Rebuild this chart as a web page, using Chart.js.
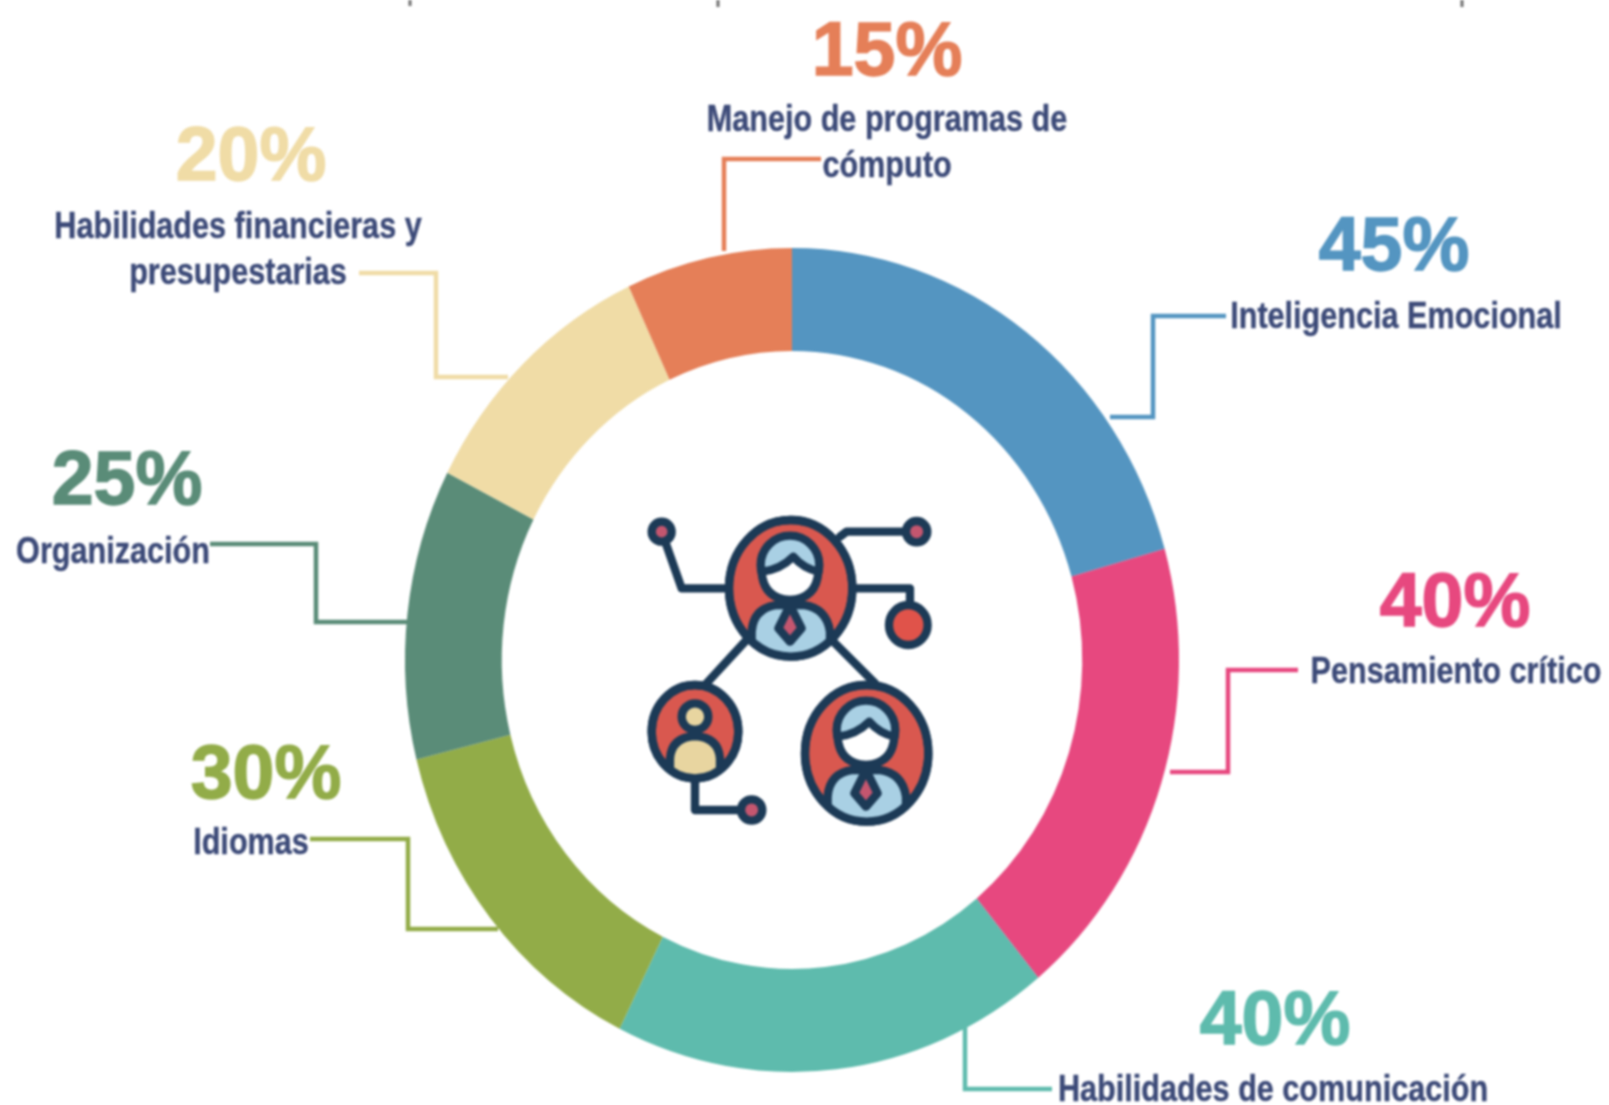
<!DOCTYPE html>
<html lang="es"><head><meta charset="utf-8"><title>Habilidades</title>
<script src="https://cdn.jsdelivr.net/npm/chart.js@4"></script>
<style>
html,body{margin:0;padding:0;background:#fff;width:1609px;height:1105px;overflow:hidden}
#stage{position:relative;width:1609px;height:1105px;filter:blur(.9px)}
#c,#art{position:absolute;left:0;top:0}
.t{position:absolute;white-space:nowrap;font-family:'Liberation Sans',sans-serif;font-weight:700;text-align:center}
.pct{font-size:76px;line-height:76px;transform:translate(-50%,-50%) scaleX(.99);-webkit-text-stroke:1.5px currentColor}
.lab{font-size:36px;line-height:46px;color:#3c4a78;transform:translate(-50%,-50%) scaleX(.85);-webkit-text-stroke:.4px currentColor}
</style></head><body>
<div id="stage">
<canvas id="c" width="1609" height="1105"></canvas>
<svg id="art" width="1609" height="1105" viewBox="0 0 1609 1105" xmlns="http://www.w3.org/2000/svg">
 <g id="leaders" fill="none" stroke-width="4.5"></g>
 <g stroke="#333" stroke-width="3" opacity=".7"><path d="M410 0v6M718 0v7M1462 0v7"/></g>
 <g transform="translate(620 500) scale(.3333)" stroke="#1c3a56" stroke-width="25" stroke-linejoin="round" stroke-linecap="round">
  <defs>
   <clipPath id="cp"><ellipse cx="512" cy="265" rx="185" ry="205"/></clipPath>
   <g id="person">
    <ellipse cx="512" cy="265" rx="185" ry="205" fill="#d9584f"/>
    <g clip-path="url(#cp)">
     <path d="M395 480 V395 Q400 325 470 315 H550 Q620 325 630 395 V480 Z" fill="#a9d0e4"/>
     <path d="M510 315 L475 385 L510 425 L545 385 Z" fill="#c4566f"/>
    </g>
    <ellipse cx="512" cy="265" rx="185" ry="205" fill="none"/>
    <ellipse cx="510" cy="195" rx="88" ry="88" fill="#a9d0e4"/>
    <path d="M425 215 Q480 210 520 170 Q550 205 595 215 Q590 295 510 300 Q430 295 425 215 Z" fill="#fff"/>
   </g>
   <clipPath id="cp2"><ellipse cx="225" cy="695" rx="130" ry="140"/></clipPath>
  </defs>
  <path fill="none" d="M125 95L185 265H320M660 110L680 95H890M705 265H870V320M375 425L255 555M640 425L765 550M225 830V930H395"/>
  <circle cx="125" cy="95" r="30" fill="#c4566f"/><circle cx="890" cy="95" r="32" fill="#c4566f"/><circle cx="395" cy="930" r="32" fill="#c4566f"/>
  <ellipse cx="865" cy="375" rx="58" ry="60" fill="#e0534a"/>
  <use href="#person"/>
  <use href="#person" x="228" y="495"/>
  <ellipse cx="225" cy="695" rx="130" ry="140" fill="#d9584f"/>
  <g clip-path="url(#cp2)"><path d="M150 840V775Q155 712 225 708Q295 712 300 775V840Z" fill="#e8d5a0"/></g>
  <ellipse cx="225" cy="695" rx="130" ry="140" fill="none"/>
  <circle cx="225" cy="650" r="40" fill="#e8d5a0"/>
 </g>
</svg>
<div id="texts"></div>
</div>
<script>
// Data
const categories = ['Inteligencia Emocional','Pensamiento crítico','Habilidades de comunicación','Idiomas','Organización','Habilidades financieras y presupestarias','Manejo de programas de cómputo'];
const values = [45,40,40,30,25,20,15];                 // printed percentages
const sliceSizes = [44.4,39.5,39.4,29.6,24.5,22.7,14.9]; // slice sizes as read from the ring
const colors = ['#5495c1','#e7487f','#5ebbad','#92ac48','#5a8c78','#f0dca6','#e57f58'];
const labelLines = [['Inteligencia Emocional'],['Pensamiento crítico'],['Habilidades de comunicación'],['Idiomas'],['Organización'],['Habilidades financieras y','presupestarias'],['Manejo de programas de','cómputo']];

// Annotation layout (page pixels)
const pctPos = [[1394,244],[1455,600],[1275,1018],[266,772],[127,478],[251,154],[887,49]];
const labPos = [[1396,316],[1456,671],[1273,1089],[251,842],[113,551],[238,249],[887,142]];
const leaderPaths = [
 'M1226 316H1153V417H1110','M1298 670H1228V772H1170','M1052 1089H965V1026',
 'M310 839H408V929H498','M210 544H316V622H407','M359 273H436V377H508','M821 159H724V251'];
const ringY = 412/387;

// Stretch the ring vertically, as in the reference
const stretch = {
  id:'stretch',
  beforeDatasetsDraw(chart){
    const a = chart.getDatasetMeta(0).data[0], ctx = chart.ctx;
    ctx.save(); ctx.translate(a.x,a.y); ctx.scale(1,ringY); ctx.translate(-a.x,-a.y);
  },
  afterDatasetsDraw(chart){ chart.ctx.restore(); }
};
new Chart(document.getElementById('c'),{
  type:'doughnut',
  data:{labels:categories,datasets:[{data:sliceSizes,backgroundColor:colors,borderWidth:0}]},
  options:{responsive:false,animation:false,cutout:'75%',
    layout:{padding:{left:405,right:430,top:273,bottom:58}},
    plugins:{legend:{display:false},tooltip:{enabled:false}}},
  plugins:[stretch]
});

const NS='http://www.w3.org/2000/svg', lg=document.getElementById('leaders'), tx=document.getElementById('texts');
values.forEach((v,i)=>{
  const p=document.createElementNS(NS,'path'); p.setAttribute('d',leaderPaths[i]); p.setAttribute('stroke',colors[i]); lg.appendChild(p);
  const d=document.createElement('div'); d.className='t pct'; d.textContent=v+'%'; d.style.color=colors[i];
  d.style.left=pctPos[i][0]+'px'; d.style.top=pctPos[i][1]+'px'; tx.appendChild(d);
  const l=document.createElement('div'); l.className='t lab'; l.innerHTML=labelLines[i].join('<br>');
  l.style.left=labPos[i][0]+'px'; l.style.top=labPos[i][1]+'px'; tx.appendChild(l);
});
</script>
</body></html>
